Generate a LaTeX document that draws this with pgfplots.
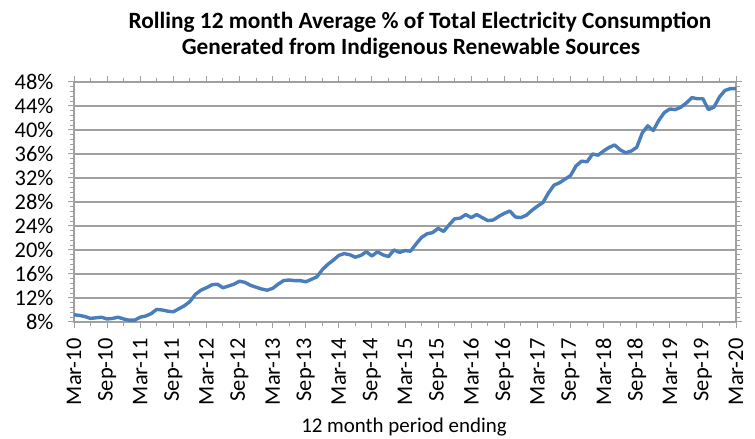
\documentclass[border=0pt]{standalone}
\usepackage{pgfplots}
\pgfplotsset{compat=1.18}
\usepackage{fontspec}
\setmainfont{Carlito}
\definecolor{linecol}{HTML}{4A7EBB}
\definecolor{gridcol}{HTML}{A0A0A0}
\begin{document}
\begin{tikzpicture}[x=1bp,y=1bp]
\path[use as bounding box] (0,0) rectangle (755,439);
\begin{axis}[
  at={(74bp,117bp)}, anchor=south west,
  width=662bp, height=240bp, scale only axis,
  xmin=0, xmax=120, ymin=8, ymax=48,
  xtick={0,6,...,120},
  minor xtick={3,9,...,117},
  xticklabels={Mar-10,Sep-10,Mar-11,Sep-11,Mar-12,Sep-12,Mar-13,Sep-13,Mar-14,Sep-14,Mar-15,Sep-15,Mar-16,Sep-16,Mar-17,Sep-17,Mar-18,Sep-18,Mar-19,Sep-19,Mar-20},
  x tick label style={yshift=-7bp, rotate=90, anchor=east, font=\fontsize{22.5}{22.5}\selectfont},
  ytick={8,12,...,48},
  minor ytick={8.8,9.6,...,47.3},
  yticklabel={\pgfmathprintnumber{\tick}\%},
  y tick label style={font=\fontsize{22.5}{22.5}\selectfont, xshift=-11bp},
  /pgf/number format/assume math mode=true,
  ymajorgrids,
  major grid style={gridcol, line width=1.6bp},
  axis line style={gridcol, line width=1.2bp},
  tick style={gridcol, line width=1bp},
  tick align=outside,
  major tick length=6bp, minor tick length=4bp,
  xminorticks=true, yminorticks=true,
  clip=false,
]
\addplot[linecol, line width=3.4bp, line join=round] table[x=m,y=v] {
m v
0 9.2
1 9.1
2 8.9
3 8.6
4 8.7
5 8.8
6 8.5
7 8.6
8 8.8
9 8.5
10 8.3
11 8.3
12 8.8
13 9.0
14 9.4
15 10.1
16 10.0
17 9.8
18 9.7
19 10.2
20 10.7
21 11.4
22 12.6
23 13.3
24 13.7
25 14.2
26 14.3
27 13.7
28 14.0
29 14.3
30 14.8
31 14.6
32 14.1
33 13.8
34 13.5
35 13.3
36 13.6
37 14.3
38 14.9
39 15.0
40 14.9
41 14.9
42 14.7
43 15.1
44 15.5
45 16.7
46 17.6
47 18.3
48 19.1
49 19.4
50 19.2
51 18.8
52 19.1
53 19.7
54 19.0
55 19.7
56 19.2
57 18.9
58 20.0
59 19.6
60 19.9
61 19.8
62 21.0
63 22.1
64 22.7
65 22.9
66 23.6
67 23.1
68 24.2
69 25.2
70 25.3
71 25.9
72 25.4
73 25.9
74 25.4
75 24.9
76 25.0
77 25.6
78 26.1
79 26.5
80 25.5
81 25.4
82 25.8
83 26.6
84 27.3
85 27.9
86 29.5
87 30.8
88 31.2
89 31.8
90 32.4
91 34.0
92 34.8
93 34.7
94 36.0
95 35.8
96 36.5
97 37.1
98 37.5
99 36.7
100 36.2
101 36.5
102 37.1
103 39.5
104 40.7
105 39.9
106 41.6
107 42.9
108 43.5
109 43.4
110 43.8
111 44.5
112 45.4
113 45.2
114 45.2
115 43.4
116 43.8
117 45.5
118 46.6
119 46.9
120 46.9
};
\end{axis}
\node[font=\bfseries\fontsize{23.4}{23.4}\selectfont] at (420,417) {Rolling 12 month Average \% of Total Electricity Consumption};
\node[font=\bfseries\fontsize{23.4}{23.4}\selectfont] at (411,391) {Generated from Indigenous Renewable Sources};
\node[font=\fontsize{21}{21}\selectfont] at (404,11.5) {12 month period ending};
\end{tikzpicture}
\end{document}
